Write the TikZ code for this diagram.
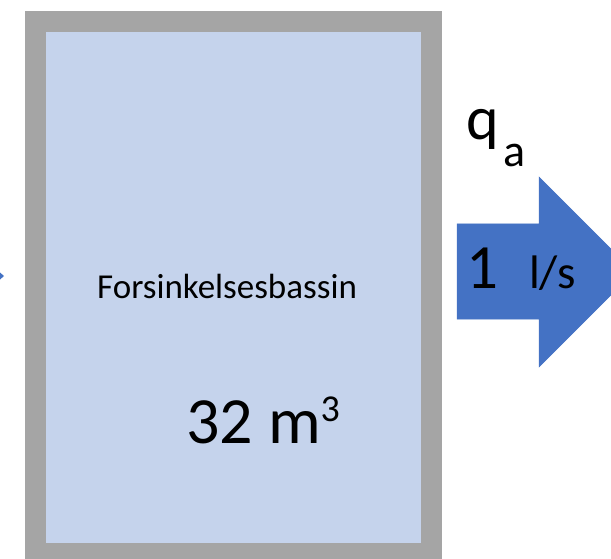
\documentclass[tikz,border=0pt]{standalone}
\usepackage{fontspec}
\setmainfont{Carlito}
\usepackage{xcolor}
\definecolor{frame}{HTML}{A5A5A5}
\definecolor{water}{HTML}{C5D3EC}
\definecolor{flow}{HTML}{4472C4}
\usetikzlibrary{positioning}
\newcommand{\fsz}[1]{\fontsize{#1}{1.2\dimexpr#1pt\relax}\selectfont}

\begin{document}
\begin{tikzpicture}[x=1pt, y=-1pt,
  lbl/.style={inner sep=0pt, anchor=base west, text=black},
  basin/.style={draw=frame, line width=21pt, fill=water},
  arrowshape/.style={fill=flow, draw=flow, line width=0.5pt}]
  \useasboundingbox (0,0) rectangle (611,559);
  \clip (0,0) rectangle (611,559);

  % basin
  \draw[basin] (35.5,21.5) rectangle (431.5,553.5);
  \node[lbl, font=\fsz{35}] (name) at (97,298) {Forsinkelsesbassin};
  \node[lbl, font=\fsz{66}] (volume) at (186,443)
    {32 m\raisebox{0.32em}{\fsz{38}3}};

  % inflow arrow, tip only
  \fill[flow] (-12,262) -- (4,276) -- (-12,290) -- cycle;

  % outflow arrow
  \draw[arrowshape] (457,224) -- (539,224) -- (539,177) -- (634,272)
    -- (539,367) -- (539,319) -- (457,319) -- cycle;
  \node[lbl, font=\fsz{63}] (one) at (466,288) {1};
  \node[lbl, font=\fsz{47}] (unit) at (529,288) {l/s};
  \node[lbl, font=\fsz{62}] (q) at (466,140) {q};
  \node[lbl, font=\fsz{46}] (sub) at (503,167) {a};
\end{tikzpicture}
\end{document}
